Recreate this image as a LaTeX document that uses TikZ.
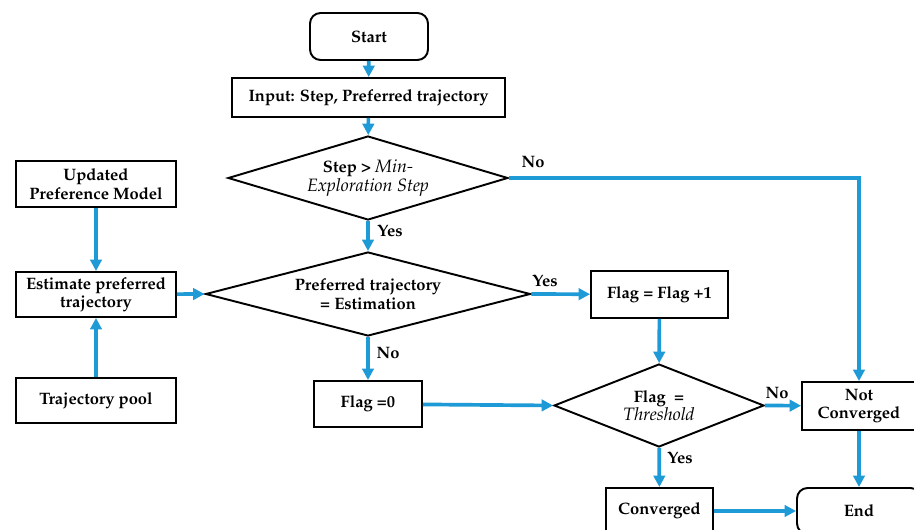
\documentclass[tikz,border=0pt]{standalone}
\usepackage[T1]{fontenc}
\usepackage{mathpazo}
\usetikzlibrary{shapes.geometric,arrows.meta}

\definecolor{flowblue}{RGB}{30,154,214}
\newcommand{\flowfont}{\bfseries\fontsize{9.4}{10.5}\selectfont}
\newcommand{\flowit}[1]{{\mdseries\itshape\fontsize{10.2}{10.5}\selectfont #1}}

\tikzset{
  box/.style={draw,line width=1.1pt,font=\flowfont,align=center,inner sep=2pt},
  term/.style={box,rounded corners=6pt},
  decide/.style={draw,diamond,line width=1.1pt,font=\flowfont,align=center,inner sep=0pt},
  flow/.style={draw=flowblue,line width=2.1pt,-{Triangle[length=6.5pt,width=6.5pt]}},
  lbl/.style={font=\flowfont,inner sep=0pt}
}

\begin{document}
\begin{tikzpicture}[x=0.02cm,y=-0.02cm]
        \useasboundingbox (0,0) rectangle (914,530);
        \clip (0,0) rectangle (914,530);
        %% main column
        \node[term,minimum width=2.36cm,minimum height=0.94cm] (start) at (369,36.5) {Start};
        \node[box,minimum width=5.46cm,minimum height=0.78cm] (input) at (368.5,97.5) {Input: Step, Preferred trajectory};
        \node[decide,aspect=3.33,minimum width=5.6cm,minimum height=1.68cm] (minstep) at (368,178) {Step > \flowit{Min-}\\\flowit{Exploration Step}};
        \node[decide,aspect=3.87,minimum width=6.5cm,minimum height=1.68cm] (same) at (368,294) {Preferred trajectory\\= Estimation};
        \node[box,minimum width=2.16cm,minimum height=0.92cm] (reset) at (368,404) {Flag =0};
        %% left column
        \node[box,minimum width=3.2cm,minimum height=0.92cm] (model) at (96,184) {Updated\\Preference Model};
        \node[box,minimum width=3.2cm,minimum height=0.9cm] (estimate) at (96,294.5) {Estimate preferred\\trajectory};
        \node[box,minimum width=3.2cm,minimum height=0.9cm] (pool) at (96,400.5) {Trajectory pool};
        %% right part
        \node[box,minimum width=2.74cm,minimum height=0.94cm] (count) at (659.5,294.5) {Flag = Flag +1};
        \node[decide,aspect=2.53,minimum width=4.2cm,minimum height=1.66cm] (thresh) at (659,405.5) {Flag \ =\\\flowit{Threshold}};
        \node[box,minimum width=2.28cm,minimum height=0.96cm] (notconv) at (859,406) {Not\\Converged};
        \node[box,minimum width=2.14cm,minimum height=0.92cm] (conv) at (659.5,511) {Converged};
        \node[term,minimum width=2.48cm,minimum height=0.92cm] (end) at (859,511) {End};

        %% connectors
        \draw[flow] (start) -- (input);
        \draw[flow] (input) -- (minstep);
        \draw[flow] (minstep.east) -| (notconv.north);
        \draw[flow] (minstep) -- (same);
        \draw[flow] (model) -- (estimate);
        \draw[flow] (pool) -- (estimate);
        \draw[flow] (estimate) -- (same.west);
        \draw[flow] (same.east) -- (count);
        \draw[flow] (same) -- (reset);
        \draw[flow] (reset) -- (thresh.west);
        \draw[flow] (count) -- (thresh);
        \draw[flow] (thresh.east) -- (notconv);
        \draw[flow] (thresh) -- (conv);
        \draw[flow] (conv) -- (end);
        \draw[flow] (notconv) -- (end);

        %% labels
        \node[lbl] (no1) at (533,162) {No};
        \node[lbl] (yes1) at (390,231) {Yes};
        \node[lbl] (yes2) at (545,281) {Yes};
        \node[lbl] (no2) at (388,353) {No};
        \node[lbl] (no3) at (777,393) {No};
        \node[lbl] (yes3) at (680,458) {Yes};
\end{tikzpicture}
\end{document}
